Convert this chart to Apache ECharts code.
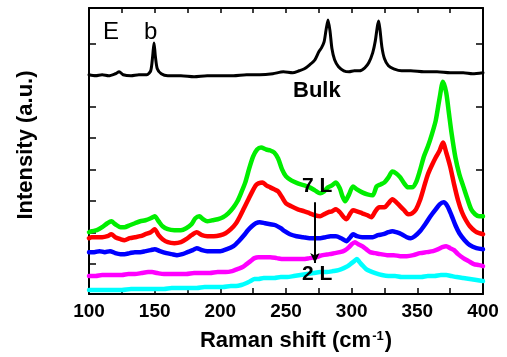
<!DOCTYPE html>
<html>
<head>
<meta charset="utf-8">
<script src="https://cdn.jsdelivr.net/npm/echarts@6/dist/echarts.min.js"></script>
<style>html,body{margin:0;padding:0;background:#fff;}#c{width:507px;height:357px;}</style>
</head>
<body>
<div id="c"></div>
<script>
var xTickLabels = [100, 150, 200, 250, 300, 350, 400];
var yTickValues = [28, 59.65, 91.3, 122.95, 154.6, 186.25, 217.9, 249.55];
var yRightTicks = [59.65, 122.95, 186.25, 249.55];

var bulk = [[100,218],[105,217],[110,218],[115,217],[120,219],[123,221],[126,218],[132,217],[138,218],[144,218],[147,222],[148.5,237],[149.5,250],[150.5,237],[152,224],[155,219],[160,217],[170,217],[180,216],[190,217],[200,217],[210,217],[220,218],[230,218],[240,219],[248,221],[255,220],[260,222],[264,224],[268,228],[272,233],[275,241],[277,245],[279,251],[280.5,263],[282,273],[283.5,262],[285,244],[287,233],[290,226],[294,222],[298,221],[302,222],[306,222],[310,225],[313,230],[316,240],[318,252],[319.5,266],[320.5,272],[321.5,264],[323,246],[325,234],[328,227],[332,224],[338,222],[345,222],[355,221],[365,221],[375,220],[385,220],[392,219],[400,220]];

var green = [[100,60],[102,61],[106,62],[110,65],[114,69],[117,71],[120,68],[124,65],[127,65],[131,67],[135,69],[139,71],[143,72],[147,74],[150,76],[153,71],[156,66],[160,63],[165,62],[170,62],[174,64],[178,68],[181,74],[184,76],[187,73],[190,71],[194,72],[198,73],[202,75],[206,79],[210,85],[213,91],[216,100],[219,110],[222,124],[225,136],[228,143],[231,145],[235,143],[238,142],[241,140],[244,134],[247,123],[250,116],[254,112],[259,109],[264,107],[268,105],[272,102],[276,99],[279,101],[282,105],[285,107],[288,110],[291,104],[293,96],[295,91],[298,98],[301,106],[304,103],[308,100],[312,98],[316,97],[319,106],[322,108],[325,110],[328,115],[331,121],[334,119],[337,115],[340,109],[343,105],[346,105],[349,110],[352,122],[355,136],[358,146],[361,158],[364,172],[367,195],[369.5,211],[372,200],[374,180],[376,160],[379,135],[382,118],[385,106],[388,94],[391,83],[394,78],[397,76],[400,76]];

var red = [[100,54],[102,55],[106,55],[110,55],[114,56],[117,58],[120,55],[124,53],[127,52],[131,54],[135,55],[139,56],[143,58],[147,60],[150,63],[153,57],[156,53],[160,50],[165,49],[170,50],[174,53],[178,57],[182,60],[186,57],[190,56],[195,56],[200,57],[204,59],[208,63],[212,69],[215,76],[218,84],[221,92],[224,100],[227,107],[229,109],[232,110],[235,107],[238,105],[241,103],[244,101],[247,95],[250,89],[254,86],[259,83],[264,81],[268,79],[272,77],[276,76],[279,78],[282,80],[285,81],[288,83],[291,80],[294,75],[296,73],[299,79],[301,82],[304,81],[308,79],[312,77],[315,75],[318,81],[321,85],[325,85],[328,89],[331,93],[334,90],[337,86],[340,82],[343,78],[346,79],[349,83],[352,92],[355,105],[358,118],[361,127],[364,135],[367,142],[369.5,150],[372,140],[375,126],[378,108],[381,92],[384,80],[387,72],[390,66],[394,61],[397,59],[400,58]];

var blue = [[100,40],[104,40],[108,41],[112,40],[116,41],[120,39],[124,38],[127,38],[131,39],[135,40],[139,40],[143,41],[147,42],[150,43],[154,41],[159,39],[163,38],[167,37],[171,38],[175,40],[179,42],[182,44],[186,42],[190,41],[195,41],[200,41],[205,43],[210,46],[214,51],[218,57],[221,62],[224,66],[227,69],[230,70],[234,69],[238,68],[242,67],[246,64],[249,61],[253,58],[258,56],[263,55],[268,54],[272,54],[276,54],[280,55],[284,56],[288,56],[292,54],[296,51],[299,55],[301,58],[304,56],[308,55],[312,55],[316,55],[320,57],[324,58],[328,60],[331,61],[334,60],[338,58],[342,55],[345,54],[348,56],[352,61],[356,68],[360,76],[364,83],[367,88],[370,90],[373,86],[376,77],[379,67],[382,59],[386,52],[390,47],[395,44],[400,43]];

var magenta = [[100,16],[105,16],[110,17],[115,17],[120,17],[125,17],[130,18],[135,18],[140,19],[145,20],[148,20],[152,19],[157,18],[162,18],[168,18],[174,18],[180,19],[186,19],[192,19],[198,20],[204,20],[209,21],[213,23],[217,25],[220,28],[223,31],[226,34],[229,35],[233,35],[238,35],[243,34],[248,33],[253,33],[258,33],[263,33],[268,34],[273,35],[278,37],[283,38],[287,39],[291,40],[295,42],[298,45],[300,48],[302.5,50],[305,48],[308,46],[311,43],[314,40],[318,39],[322,38],[327,37],[332,37],[337,36],[342,36],[347,37],[352,39],[357,40],[362,41],[366,43],[369,45],[372,46],[375,44],[378,42],[381,38],[385,34],[389,31],[393,28],[397,27],[400,26]];

var cyan = [[100,2],[105,2],[110,2],[118,2],[125,2],[132,3],[138,3],[144,3],[150,3],[157,3],[163,4],[170,4],[176,4],[182,4],[188,5],[195,5],[202,5],[208,6],[212,6],[216,7],[220,9],[223,11],[226,13],[229,13],[233,14],[237,14],[241,14],[246,15],[251,15],[256,16],[261,17],[266,18],[271,19],[276,20],[281,20],[286,21],[290,22],[294,24],[297,26],[300,29],[302,31],[304,33],[306,30],[308,27],[311,23],[314,21],[318,19],[323,17],[328,16],[333,16],[338,15],[343,15],[348,15],[353,15],[358,16],[363,16],[368,17],[372,17],[376,16],[380,15],[385,14],[390,13],[395,12],[400,11]];

var arrowFrom = [272, 90];
var arrowTo = [272, 29];

var FONT = 'Liberation Sans, Arial, sans-serif';
var chart = echarts.init(document.getElementById('c'), null, {renderer: 'canvas'});

function line(name, data, color, width, extra) {
  var s = {
    name: name, type: 'line', data: data, showSymbol: false, symbol: 'none',
    smooth: 0.25, animation: false, silent: true,
    lineStyle: {color: color, width: width, join: 'round', cap: 'round'}
  };
  if (extra) for (var k in extra) s[k] = extra[k];
  return s;
}

var axisLineStyle = {show: true, onZero: false, lineStyle: {color: '#000', width: 2}};

chart.setOption({
  animation: false,
  backgroundColor: '#fff',
  grid: {left: 89, right: 24, top: 8, bottom: 62, containLabel: false},
  xAxis: [{
    type: 'value', min: 100, max: 400, interval: 50, position: 'bottom',
    axisLine: axisLineStyle,
    axisTick: {show: true, inside: true, length: 6, lineStyle: {color: '#000', width: 1.5}},
    minorTick: {show: true, splitNumber: 2, length: 6, lineStyle: {color: '#000', width: 1.5}},
    splitLine: {show: false},
    axisLabel: {show: true, color: '#000', fontFamily: FONT, fontWeight: 'bold', fontSize: 19, margin: 8,
      customValues: xTickLabels},
    name: '{a|Raman shift (cm}{s|-1}{a|)}', nameLocation: 'middle', nameGap: 36,
    nameTextStyle: {color: '#000', padding: [0, 0, 0, 20],
      rich: {a: {fontFamily: FONT, fontWeight: 'bold', fontSize: 22, color: '#000'},
             s: {fontFamily: FONT, fontWeight: 'bold', fontSize: 13, color: '#000', verticalAlign: 'top', padding: [0, 1, 8, 1]}}}
  }, {
    type: 'value', min: 100, max: 400, interval: 50, position: 'top',
    axisLine: axisLineStyle,
    axisTick: {show: true, inside: true, length: 5, lineStyle: {color: '#000', width: 1.5}},
    minorTick: {show: true, splitNumber: 2, length: 5, lineStyle: {color: '#000', width: 1.5}},
    splitLine: {show: false}, axisLabel: {show: false}
  }],
  yAxis: [{
    type: 'value', min: -2, max: 285, position: 'left',
    axisLine: axisLineStyle,
    axisTick: {show: true, inside: true, length: 7, customValues: yTickValues, lineStyle: {color: '#000', width: 1.5}},
    splitLine: {show: false}, axisLabel: {show: false},
    name: 'Intensity (a.u.)', nameLocation: 'middle', nameRotate: 90, nameGap: 52,
    nameTextStyle: {color: '#000', fontFamily: FONT, fontWeight: 'bold', fontSize: 22, padding: [0, 0, 0, 12]}
  }, {
    type: 'value', min: -2, max: 285, position: 'right',
    axisLine: axisLineStyle,
    axisTick: {show: true, inside: true, length: 7, customValues: yRightTicks, lineStyle: {color: '#000', width: 1.5}},
    splitLine: {show: false}, axisLabel: {show: false}
  }],
  series: [
    line('Bulk', bulk, '#000000', 3),
    line('7 L', green, '#00ee00', 4.5),
    line('red', red, '#ff0000', 4.5),
    line('blue', blue, '#0000ff', 4.5),
    line('magenta', magenta, '#ff00ff', 4.5),
    line('2 L', cyan, '#00ffff', 4.5, {
      markLine: {
        silent: true, animation: false, symbol: ['none', 'arrow'], symbolSize: [7, 10],
        label: {show: false}, z: 50,
        lineStyle: {color: '#000', width: 2, type: 'solid'},
        data: [[{coord: arrowFrom}, {coord: arrowTo}]]
      }
    })
  ],
  graphic: [
    {type: 'text', z: 100, left: 103, top: 20, style: {text: 'E', fontFamily: FONT, fontSize: 24, fontWeight: 'normal', fill: '#000'}},
    {type: 'text', z: 100, left: 144, top: 20, style: {text: 'b', fontFamily: FONT, fontSize: 24, fontWeight: 'normal', fill: '#000'}},
    {type: 'text', z: 100, left: 293, top: 80, style: {text: 'Bulk', fontFamily: FONT, fontSize: 22, fontWeight: 'bold', fill: '#000'}},
    {type: 'text', z: 100, left: 302, top: 176, style: {text: '7 L', fontFamily: FONT, fontSize: 21, fontWeight: 'bold', fill: '#000'}},
    {type: 'text', z: 100, left: 302, top: 264, style: {text: '2 L', fontFamily: FONT, fontSize: 21, fontWeight: 'bold', fill: '#000'}}
  ]
});
</script>
</body>
</html>
